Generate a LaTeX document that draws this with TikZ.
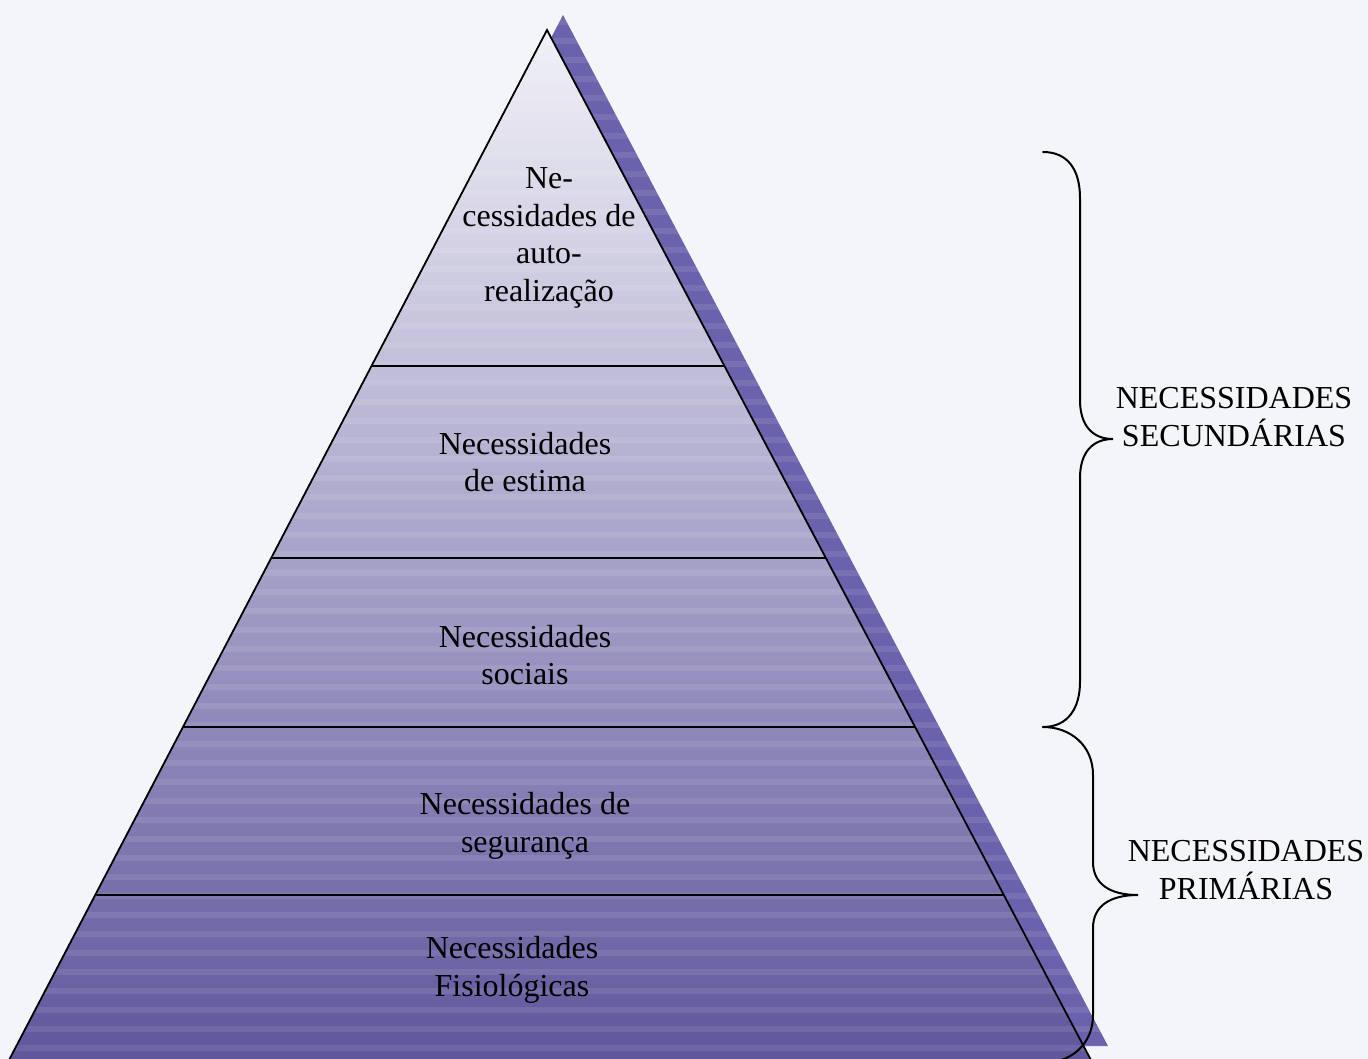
\documentclass[tikz,border=0pt]{standalone}
\usepackage{fontspec}
\setmainfont{Liberation Serif}
\usetikzlibrary{calc}
\definecolor{bgc}{HTML}{F3F5F9}
\definecolor{pyrtop}{HTML}{F1F1F7}
\definecolor{pyrmid}{HTML}{BEB9DA}
\definecolor{pyrbot}{HTML}{5F569C}
\definecolor{shadowc}{HTML}{6A62AC}
\tikzset{
  label/.style={align=center, font=\fontsize{32}{37.5}\selectfont, text=black, inner sep=0pt},
  outline/.style={draw=black, line width=1.8pt, line join=miter},
  divider/.style={draw=black, line width=1.8pt},
  bracepath/.style={draw=black, line width=2pt, line cap=round},
  stripe/.style={white, opacity=0.09, line width=6pt}
}
\begin{document}
\begin{tikzpicture}[x=1pt,y=-1pt]
  % page background
  \fill[bgc] (0,0) rectangle (1368,1059);
  \useasboundingbox (0,0) rectangle (1368,1059);

  % pyramid corners and its drop shadow
  \coordinate (apex) at (547,30);
  \coordinate (bl) at (8,1062);
  \coordinate (br) at (1092,1062);
  \coordinate (sapex) at (563,15);
  \coordinate (sbl) at (25,1046);
  \coordinate (sbr) at (1108,1046);

  \fill[shadowc] (sapex) -- (sbr) -- (sbl) -- cycle;
  \shade[top color=pyrtop, middle color=pyrmid, bottom color=pyrbot]
    (apex) -- (br) -- (bl) -- cycle;

  % horizontal banding over the coloured areas
  \begin{scope}
    \clip (sapex) -- (sbr) -- (sbl) -- cycle (apex) -- (br) -- (bl) -- cycle;
    \foreach \yy in {22,41,...,1060} {
      \draw[stripe] (0,\yy) -- (1368,\yy);
    }
  \end{scope}

  % level boundaries
  \foreach \n/\f in {1/0.3256, 2/0.5116, 3/0.6754, 4/0.8382} {
    \coordinate (l\n) at ($(apex)!\f!(bl)$);
    \coordinate (r\n) at ($(apex)!\f!(br)$);
  }
  \draw[divider] (l1) -- (r1);
  \draw[divider] (l2) -- (r2);
  \draw[divider] (l3) -- (r3);
  \draw[divider] (l4) -- (r4);
  \draw[outline] (bl) -- (apex) -- (br);

  % level labels
  \node[label] (lvl5) at (549,238) {Ne-\\cessidades de\\auto-\\realização};
  \node[label] (lvl4) at (525,462) {Necessidades\\de estima};
  \node[label] (lvl3) at (525,655) {Necessidades\\sociais};
  \node[label] (lvl2) at (525,826) {Necessidades de\\segurança};
  \node[label] (lvl1) at (512,970) {Necessidades\\Fisiológicas};

  % braces
  \coordinate (s1) at (1043,152);
  \coordinate (t1) at (1113,439);
  \coordinate (m) at (1043,727);
  \coordinate (t2) at (1138,895);
  \coordinate (e2) at (1043,1063);

  \draw[bracepath] (s1) .. controls (1068,152) and (1080,170) .. (1080,198)
    -- (1080,400) .. controls (1080,425) and (1092,439) .. (t1)
    .. controls (1092,439) and (1080,453) .. (1080,478)
    -- (1080,682) .. controls (1080,708) and (1068,727) .. (m);
  \draw[bracepath] (m) .. controls (1070,727) and (1093,745) .. (1093,775)
    -- (1093,862) .. controls (1093,884) and (1110,895) .. (t2)
    .. controls (1110,895) and (1093,906) .. (1093,928)
    -- (1093,1015) .. controls (1093,1045) and (1070,1063) .. (e2);

  \node[label] (sec) at (1234,417) {NECESSIDADES\\SECUNDÁRIAS};
  \node[label] (pri) at (1246,870) {NECESSIDADES\\PRIMÁRIAS};
\end{tikzpicture}
\end{document}
